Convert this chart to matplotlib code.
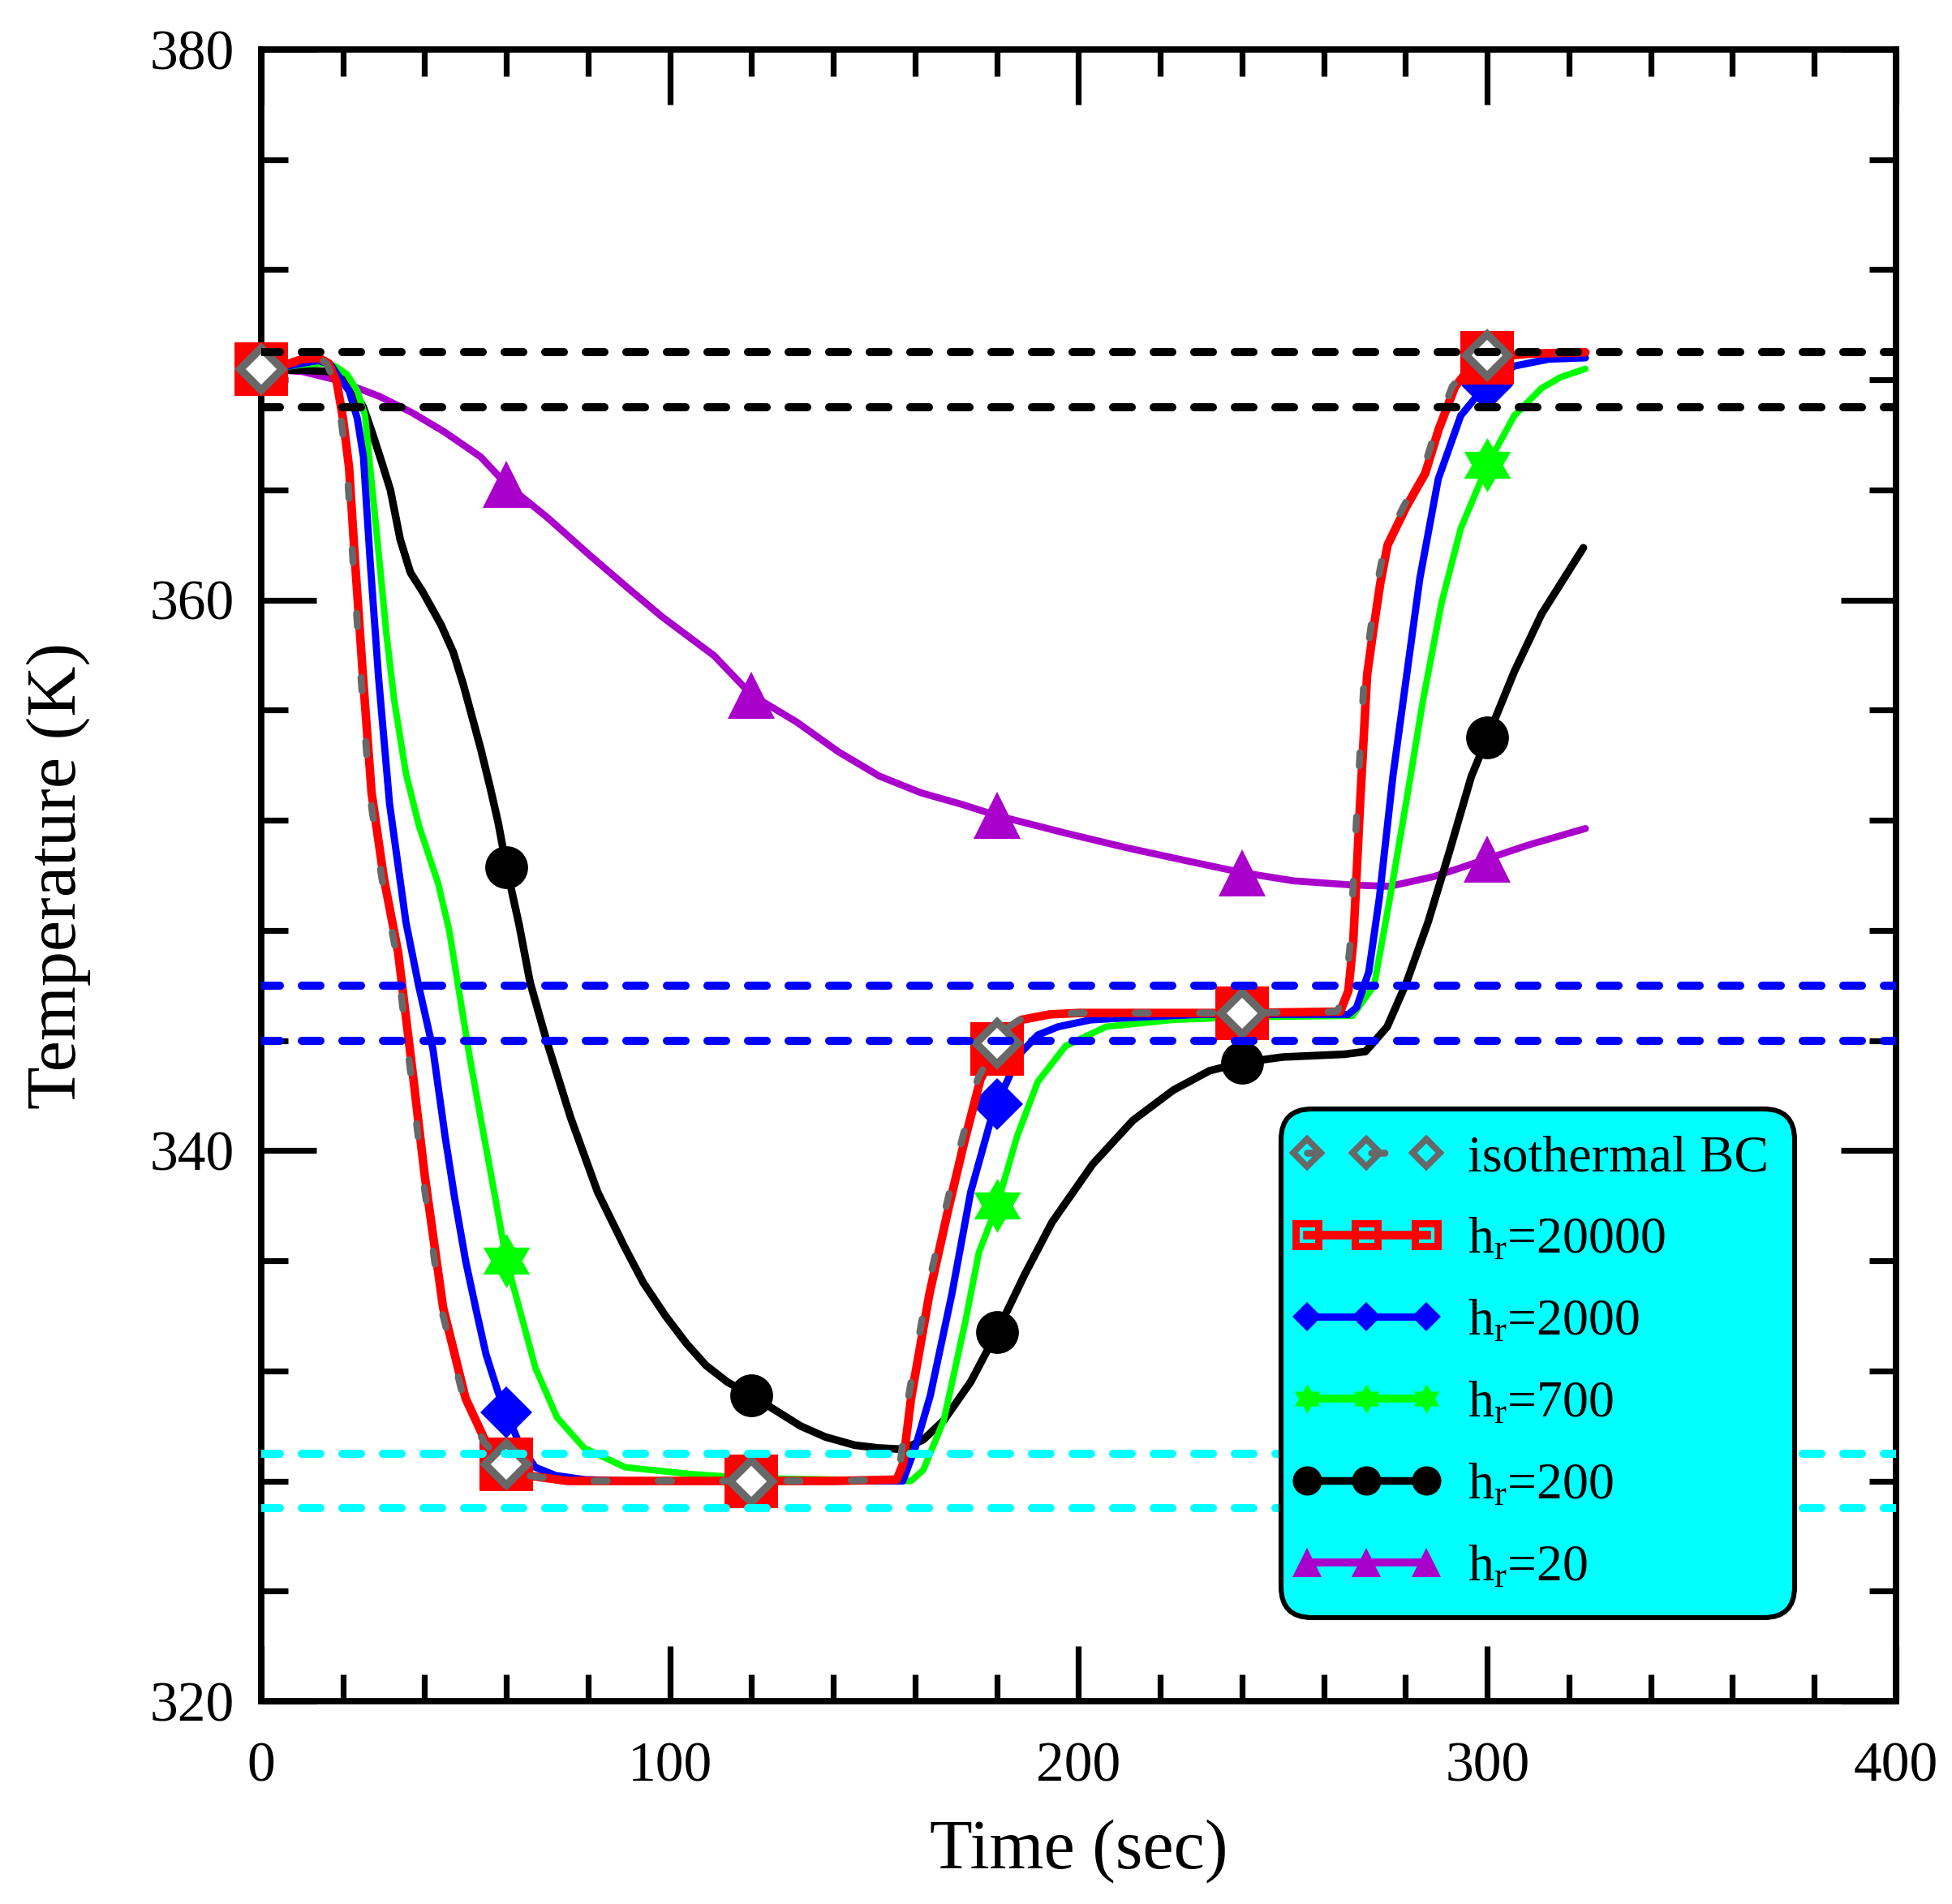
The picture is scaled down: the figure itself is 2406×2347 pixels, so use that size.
import numpy as np
import matplotlib
matplotlib.use('Agg')
import matplotlib.pyplot as plt
from matplotlib.lines import Line2D
from matplotlib.path import Path
from matplotlib.ticker import MultipleLocator
from matplotlib.legend_handler import HandlerLine2D

plt.rcParams['font.family'] = ['Liberation Serif', 'DejaVu Serif']
plt.rcParams['mathtext.fontset'] = 'custom'
plt.rcParams['mathtext.rm'] = 'Liberation Serif'
plt.rcParams['mathtext.it'] = 'Liberation Serif:italic'

# ---------------- data ----------------
marker_times = [0, 60, 120, 180, 240, 300]

iso_t = [0, 5, 10, 14, 16, 18, 19.5, 21, 22.5, 24.5, 26.5, 29.5, 33, 36.5, 39.5, 44, 49.5, 54.5, 60, 65,
         75, 100, 120, 140, 154.8, 156.3, 158.3, 162.8, 167.3, 171.3, 175.3, 180, 182.5, 185.5, 192.5, 200,
         240, 263.3, 265.3, 266.5, 268.2, 269.9, 271.5, 273.1, 274.9, 279.5, 284.1, 287.4, 291.4, 295.4,
         300, 310, 324]
iso_T = [368.4, 368.5, 368.75, 368.8, 368.6, 367.9, 366.6, 364.8, 361.3, 357.0, 353.0, 349.9, 347.2, 342.9,
         339.1, 334.3, 331.0, 329.4, 328.6, 328.2, 328.0, 328.0, 328.0, 328.0, 328.05, 328.6, 331.0, 334.8,
         337.8, 340.3, 342.6, 343.9, 344.45, 344.75, 344.95, 345.0, 345.0, 345.05, 345.8, 347.6, 352.7,
         357.3, 359.0, 360.6, 362.0, 363.4, 364.6, 366.2, 367.75, 368.5, 368.9, 368.95, 369.0]

h20000_t = [0, 5, 10, 14, 16.5, 18.5, 20, 21.5, 23, 25, 27, 30, 33.5, 37, 40, 44.5, 50, 55, 60, 65,
            75, 100, 120, 140, 155.5, 157, 159, 163.5, 168, 172, 176, 180, 183, 186, 193, 200, 240, 264,
            266, 267.2, 268.9, 270.6, 272.2, 273.8, 275.6, 280.2, 284.8, 288.1, 292.1, 296.1, 300, 310, 324]
h20000_T = [368.4, 368.5, 368.75, 368.8, 368.6, 367.9, 366.6, 364.8, 361.3, 357.0, 353.0, 349.9, 347.2,
            342.9, 339.1, 334.3, 331.0, 329.4, 328.6, 328.2, 328.0, 328.0, 328.0, 328.0, 328.05, 328.6,
            331.0, 334.8, 337.8, 340.3, 342.6, 343.7, 344.4, 344.75, 344.95, 345.0, 345.0, 345.05, 345.8,
            347.6, 352.7, 357.3, 359.0, 360.6, 362.0, 363.4, 364.6, 366.2, 367.75, 368.5, 368.8, 368.95, 369.0]

h2000_t = [0, 5, 10, 14, 17, 19.5, 21.5, 23.5, 25, 26.7, 28.7, 31.4, 35.4, 38.5, 42, 45, 47.3, 50, 52.6, 55,
           58, 60, 63, 67, 72, 79, 90, 120, 157, 160, 163.7, 169, 173.6, 178.3, 180, 185.5, 190, 195, 203,
           215, 230, 240, 266, 268, 271, 273.6, 276.9, 280.2, 283.5, 288, 293.5, 298.5, 300, 306.6, 315, 324]
h2000_T = [368.4, 368.45, 368.6, 368.7, 368.55, 368.0, 367.6, 366.6, 365.2, 361.3, 357.2, 352.6, 348.3,
           346.0, 343.7, 340.5, 338.3, 336.0, 334.2, 332.6, 331.2, 330.5, 329.4, 328.5, 328.2, 328.05,
           328.0, 328.0, 328.0, 329.2, 331.1, 334.8, 338.5, 341.0, 341.7, 343.5, 344.2, 344.5, 344.75,
           344.85, 344.95, 344.95, 344.95, 345.2, 346.5, 349.2, 353.6, 357.2, 360.8, 364.4, 366.7, 367.6,
           367.8, 368.5, 368.75, 368.8]

h700_t = [0, 5, 10, 15, 18, 21, 23.5, 25.4, 27.2, 29, 30.6, 32.5, 35.4, 38.6, 43.3, 46, 48.6, 51, 53.9, 57,
          60, 63.1, 67.1, 72.4, 79, 89, 105, 120, 159, 162, 167, 172.3, 175.6, 180, 184.9, 190, 196.8,
          206.7, 223, 240, 267, 272.3, 276.2, 280.2, 284.2, 288.8, 293.5, 300, 306.6, 313.3, 318, 324]
h700_T = [368.4, 368.45, 368.55, 368.6, 368.5, 368.2, 367.6, 366.7, 364.0, 361.3, 358.8, 356.4, 353.7,
          351.8, 349.7, 348.0, 345.6, 343.4, 341.0, 338.5, 336.0, 334.3, 332.1, 330.3, 329.2, 328.5,
          328.25, 328.1, 328.0, 328.4, 330.2, 333.8, 336.3, 338.0, 340.5, 342.5, 343.8, 344.5, 344.75,
          344.85, 344.9, 346.0, 349.2, 352.7, 356.3, 359.9, 362.6, 364.9, 366.7, 367.7, 368.1, 368.4]

h200_t = [0, 10, 17, 20, 22.6, 25, 27.1, 29.5, 31.6, 34, 36.5, 39.5, 44, 47, 49.5, 53.7, 56, 58, 60, 63.1,
          65.8, 69.8, 75.7, 82.3, 88.9, 93.5, 98.9, 104, 108.8, 114, 120, 126, 131.9, 138, 145.2, 151,
          157.1, 162, 167, 173.6, 180, 186.8, 193.5, 203.4, 213.3, 223.2, 232, 240, 250, 265, 270.2, 275.5,
          280.2, 285.5, 290.8, 296.1, 300, 306.6, 313.3, 323.5]
h200_T = [368.35, 368.35, 368.3, 368.0, 367.6, 367.0, 366.1, 365.0, 364.0, 362.2, 361.0, 360.3, 359.1,
          358.1, 356.9, 354.6, 353.2, 351.9, 350.3, 348.2, 346.1, 344.0, 341.2, 338.5, 336.5, 335.2,
          334.0, 333.0, 332.2, 331.6, 331.1, 330.55, 330.0, 329.6, 329.3, 329.2, 329.15, 329.5, 330.2,
          331.6, 333.4, 335.5, 337.4, 339.5, 341.1, 342.2, 342.9, 343.2, 343.4, 343.5, 343.6, 344.5,
          346.1, 348.3, 350.9, 353.6, 355.0, 357.4, 359.5, 361.9]

h20_t = [0, 10, 18.3, 28.9, 37, 44.9, 53.7, 60, 70, 80.2, 90, 98, 110.8, 120, 131, 141.2, 151.3, 161.4,
         171.6, 180, 196.9, 212.1, 227.3, 240, 252.6, 266.9, 276, 286.8, 293, 300, 310, 324]
h20_T = [368.4, 368.3, 368.0, 367.4, 366.8, 366.1, 365.2, 364.2, 363.0, 361.65, 360.4, 359.4, 357.98,
         356.55, 355.57, 354.49, 353.6, 353.0, 352.57, 352.17, 351.53, 350.99, 350.5, 350.1, 349.8,
         349.65, 349.6, 349.95, 350.25, 350.6, 351.1, 351.7]

ref_black = [369, 367]
ref_blue = [346, 344]
ref_cyan = [329, 327]

labels = ['isothermal BC', r'h$_\mathregular{r}$=20000', r'h$_\mathregular{r}$=2000',
          r'h$_\mathregular{r}$=700', r'h$_\mathregular{r}$=200', r'h$_\mathregular{r}$=20']

# ---------------- styles ----------------
GREY = '#686868'
RED = '#FF0000'
BLUE = '#0000FF'
GREEN = '#00FF00'
BLACK = '#000000'
PURPLE = '#AA00CC'
CYAN = '#00FFFF'

ang = np.pi / 2 + np.arange(12) * np.pi / 6
rad = np.where(np.arange(12) % 2 == 0, 1.0, 1 / np.sqrt(3))
sv = np.column_stack([rad * np.cos(ang), rad * np.sin(ang)])
sv = np.vstack([sv, sv[:1]])
star6 = Path(sv, [Path.MOVETO] + [Path.LINETO] * 11 + [Path.CLOSEPOLY])

LW_RED, LW_BLUE, LW_GREEN, LW_BLACK, LW_PURPLE, LW_ISO = 3.8, 3.2, 2.9, 3.4, 3.1, 3.1
REF_LW = 3.6
REF_DASH = (2.3, 2.7)
ISO_DASH = (1.9, 7.3)


def mk(t):
    return [i for i, v in enumerate(t) if v in marker_times]


fig = plt.figure(figsize=(12.03, 11.735), dpi=200)
ax = fig.add_axes([0.13383, 0.10652, 0.83749, 0.86749])

common = dict(clip_on=False, solid_joinstyle='round', solid_capstyle='round')
ax.plot(h20_t, h20_T, color=PURPLE, lw=LW_PURPLE, marker='^', ms=21, mew=0, markevery=mk(h20_t),
        zorder=3, **common)
ax.plot(h200_t, h200_T, color=BLACK, lw=LW_BLACK, marker='o', ms=19, mew=0, markevery=mk(h200_t),
        zorder=3.1, **common)
ax.plot(h700_t, h700_T, color=GREEN, lw=LW_GREEN, marker=star6, ms=24, mew=0, markevery=mk(h700_t),
        zorder=3.2, **common)
ax.plot(h2000_t, h2000_T, color=BLUE, lw=LW_BLUE, marker='D', ms=16.5, mew=0, markevery=mk(h2000_t),
        zorder=3.3, **common)
ax.plot(h20000_t, h20000_T, color=RED, lw=LW_RED, marker='s', ms=24, mew=0, markevery=mk(h20000_t),
        zorder=3.4, **common)
ax.plot(iso_t, iso_T, color=GREY, lw=LW_ISO, dashes=ISO_DASH, dash_capstyle='round', clip_on=False,
        marker='D', ms=13, mfc='white', mec=GREY, mew=3.5, markevery=mk(iso_t), zorder=3.5)

for y in ref_black:
    ax.axhline(y, color=BLACK, lw=REF_LW, dashes=REF_DASH, dash_capstyle='round', zorder=10)
for y in ref_blue:
    ax.axhline(y, color=BLUE, lw=REF_LW, dashes=REF_DASH, dash_capstyle='round', zorder=10)
for y in ref_cyan:
    ax.axhline(y, color=CYAN, lw=REF_LW, dashes=REF_DASH, dash_capstyle='round', zorder=10)

ax.set_xlim(0, 400)
ax.set_ylim(320, 380)
ax.set_xticks([0, 100, 200, 300, 400])
ax.set_yticks([320, 340, 360, 380])
ax.xaxis.set_minor_locator(MultipleLocator(20))
ax.yaxis.set_minor_locator(MultipleLocator(4))
ax.tick_params(which='both', direction='in', top=True, right=True, width=2.6, labelsize=25)
ax.tick_params(which='major', length=24.5)
ax.tick_params(which='minor', length=12)
ax.tick_params(axis='x', pad=18)
ax.tick_params(axis='y', pad=12)
for s in ax.spines.values():
    s.set_linewidth(2.8)

ax.set_xlabel('Time (sec)', fontsize=31)
ax.xaxis.set_label_coords(0.5, -0.071)
ax.set_ylabel('Temperature (K)', fontsize=31)
ax.yaxis.set_label_coords(-0.104, 0.5)

handles = [
    Line2D([], [], color=GREY, lw=LW_ISO, dashes=ISO_DASH, dash_capstyle='round', marker='D', ms=8.5,
           mfc='none', mec=GREY, mew=2.8),
    Line2D([], [], color=RED, lw=LW_RED, marker='s', ms=10, mfc='none', mec=RED, mew=3.2),
    Line2D([], [], color=BLUE, lw=LW_BLUE, marker='D', ms=9, mew=0),
    Line2D([], [], color=GREEN, lw=LW_GREEN + 0.6, marker=star6, ms=13, mew=0),
    Line2D([], [], color=BLACK, lw=LW_BLACK, marker='o', ms=13, mew=0),
    Line2D([], [], color=PURPLE, lw=LW_PURPLE + 0.4, marker='^', ms=13, mew=0),
]
hmap = {h: HandlerLine2D(marker_pad=0.0, numpoints=3) for h in handles}
leg = ax.legend(handles, labels, loc='upper left', bbox_to_anchor=(0.6238, 0.3585), numpoints=3,
                handler_map=hmap, handlelength=2.3, handletextpad=0.8, borderpad=0.5,
                labelspacing=0.66, fontsize=23, frameon=True, fancybox=True, facecolor=CYAN,
                edgecolor=BLACK, framealpha=1, borderaxespad=0)
leg.get_frame().set_linewidth(2.2)
leg.get_frame().set_boxstyle('round', pad=0, rounding_size=0.6)
leg.set_zorder(20)

fig.savefig('out.png', dpi=200)
